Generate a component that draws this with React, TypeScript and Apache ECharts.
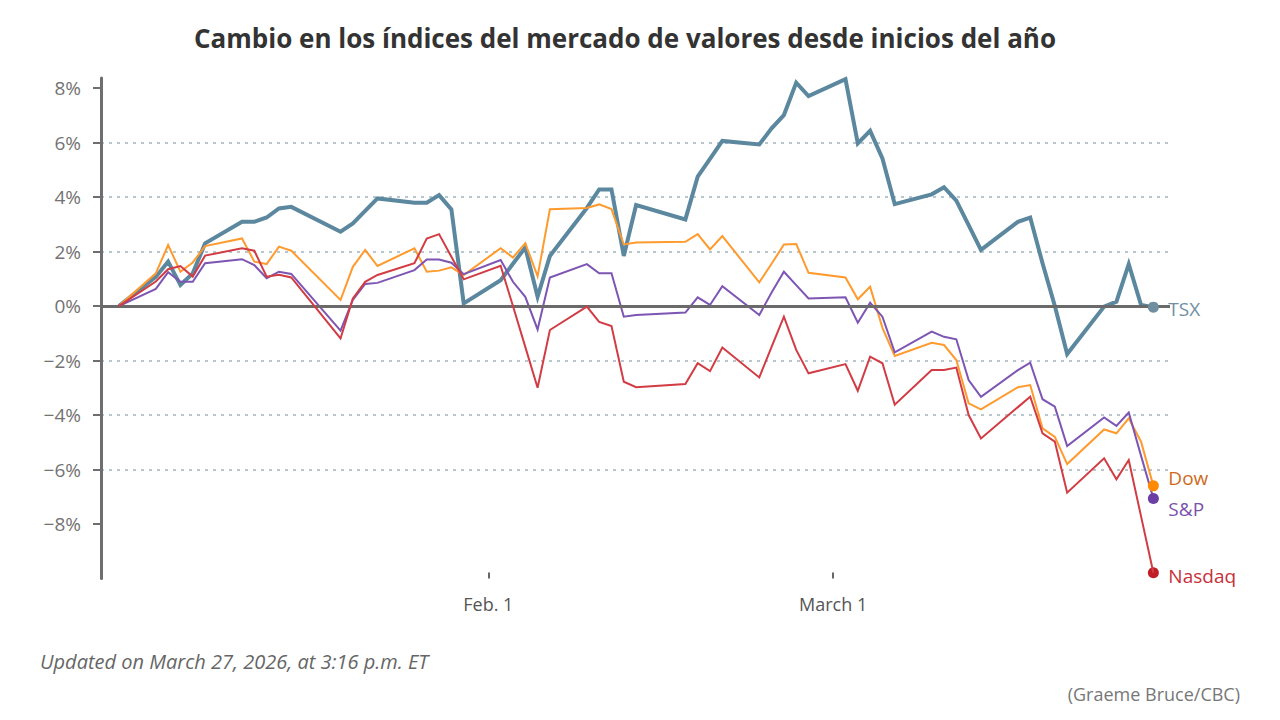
import React, { useEffect, useRef } from "react";
import * as echarts from "echarts";

// Trading days of 2026 (day number: Jan 1 = 0)
const dates = [
  "2026-01-02", "2026-01-05", "2026-01-06", "2026-01-07", "2026-01-08", "2026-01-09",
  "2026-01-12", "2026-01-13", "2026-01-14", "2026-01-15", "2026-01-16",
  "2026-01-20", "2026-01-21", "2026-01-22", "2026-01-23",
  "2026-01-26", "2026-01-27", "2026-01-28", "2026-01-29", "2026-01-30",
  "2026-02-02", "2026-02-03", "2026-02-04", "2026-02-05", "2026-02-06",
  "2026-02-09", "2026-02-10", "2026-02-11", "2026-02-12", "2026-02-13",
  "2026-02-17", "2026-02-18", "2026-02-19", "2026-02-20",
  "2026-02-23", "2026-02-24", "2026-02-25", "2026-02-26", "2026-02-27",
  "2026-03-02", "2026-03-03", "2026-03-04", "2026-03-05", "2026-03-06",
  "2026-03-09", "2026-03-10", "2026-03-11", "2026-03-12", "2026-03-13",
  "2026-03-16", "2026-03-17", "2026-03-18", "2026-03-19", "2026-03-20",
  "2026-03-23", "2026-03-24", "2026-03-25", "2026-03-26", "2026-03-27",
];

const tsx = [
  0, 1.07, 1.63, 0.77, 1.2, 2.3,
  3.09, 3.09, 3.25, 3.58, 3.64,
  2.73, 3.03, 3.49, 3.95,
  3.79, 3.79, 4.07, 3.55, 0.1,
  0.95, 1.55, 2.15, 0.34, 1.84,
  3.6, 4.28, 4.28, 1.84, 3.71,
  3.18, 4.75, 5.4, 6.06,
  5.93, 6.52, 7.01, 8.2, 7.71,
  8.33, 5.97, 6.43, 5.42, 3.74,
  4.1, 4.36, 3.87, 2.97, 2.06,
  3.09, 3.25, 1.57, 0.0, -1.76,
  -0.02, 0.16, 1.54, 0.04, -0.04,
];

const dow = [
  0, 1.2, 2.24, 1.26, 1.6, 2.2,
  2.48, 1.63, 1.54, 2.18, 2.03,
  0.22, 1.44, 2.06, 1.47,
  2.12, 1.26, 1.3, 1.42, 1.14,
  2.12, 1.78, 2.31, 1.09, 3.55,
  3.6, 3.73, 3.56, 2.26, 2.33,
  2.36, 2.64, 2.08, 2.57,
  0.87, 1.55, 2.26, 2.28, 1.22,
  1.05, 0.25, 0.71, -0.8, -1.83,
  -1.35, -1.43, -1.98, -3.57, -3.79,
  -2.98, -2.9, -4.49, -4.8, -5.8,
  -4.53, -4.67, -4.12, -4.98, -6.6,
];

const sp = [
  0, 0.63, 1.24, 0.89, 0.89, 1.57,
  1.72, 1.5, 1.02, 1.26, 1.18,
  -0.9, 0.23, 0.81, 0.85,
  1.32, 1.71, 1.71, 1.59, 1.17,
  1.69, 0.89, 0.34, -0.86, 1.05,
  1.54, 1.2, 1.2, -0.39, -0.33,
  -0.24, 0.32, 0.04, 0.73,
  -0.33, 0.5, 1.26, 0.77, 0.28,
  0.32, -0.61, 0.12, -0.39, -1.7,
  -0.94, -1.13, -1.22, -2.72, -3.33,
  -2.35, -2.08, -3.42, -3.69, -5.14,
  -4.09, -4.4, -3.91, -5.5, -7.06,
];

const nasdaq = [
  0, 0.9, 1.35, 1.47, 1.08, 1.85,
  2.12, 2.03, 1.08, 1.15, 1.05,
  -1.19, 0.28, 0.89, 1.14,
  1.57, 2.48, 2.64, 1.81, 0.98,
  1.48, 0.0, -1.5, -3.0, -0.88,
  -0.02, -0.58, -0.73, -2.78, -2.98,
  -2.86, -2.1, -2.39, -1.52,
  -2.62, -1.5, -0.39, -1.61, -2.47,
  -2.13, -3.11, -1.86, -2.1, -3.62,
  -2.35, -2.35, -2.26, -4.0, -4.86,
  -3.71, -3.33, -4.67, -4.98, -6.85,
  -5.59, -6.36, -5.65, -7.72, -9.79,
];

const yTicks = [-8, -6, -4, -2, 0, 2, 4, 6, 8];
const xTickDates = ["2026-02-01", "2026-03-01"];
const xTickLabels = ["Feb. 1", "March 1"];

const TITLE = "Cambio en los índices del mercado de valores desde inicios del año";
const UPDATED = "Updated on March 27, 2026, at 3:16 p.m. ET";
const CREDIT = "(Graeme Bruce/CBC)";

const FONT = "'Open Sans', 'Noto Sans', sans-serif";

function dayNum(s: string): number {
  const [y, m, d] = s.split("-").map(Number);
  return (Date.UTC(y, m - 1, d) - Date.UTC(2026, 0, 1)) / 86400000;
}

const days = dates.map(dayNum);
const xTickDays = xTickDates.map(dayNum);

function makeSeries(
  name: string,
  values: number[],
  color: string,
  width: number,
  dotColor: string,
  labelColor: string,
  labelOffset: number,
  z: number,
  extra: any = {}
) {
  const data = days.map((d, i) => [d, values[i]]);
  const last = data[data.length - 1];
  return {
    name,
    type: "line",
    data,
    z,
    symbol: "none",
    showSymbol: false,
    lineStyle: { color, width, join: "miter" },
    itemStyle: { color },
    silent: true,
    endLabel: {
      show: true,
      formatter: name,
      color: labelColor,
      fontSize: 19,
      fontFamily: FONT,
      distance: 15,
      offset: [0, labelOffset],
    },
    markPoint: {
      symbol: "circle",
      symbolSize: 11,
      silent: true,
      label: { show: false },
      itemStyle: { color: dotColor },
      data: [{ coord: last }],
    },
    ...extra,
  };
}

export default function App() {
  const ref = useRef<HTMLDivElement>(null);

  useEffect(() => {
    if (!ref.current) return;
    const chart = echarts.init(ref.current, undefined, { renderer: "svg" });
    chart.setOption({
      animation: false,
      backgroundColor: "#ffffff",
      title: [
        {
          text: TITLE,
          left: 189,
          top: 20,
          textStyle: { fontSize: 26, fontWeight: "bold", color: "#333333", fontFamily: FONT },
        },
        {
          text: UPDATED,
          left: 35,
          top: 646,
          textStyle: { fontSize: 20, fontStyle: "italic", fontWeight: "normal", color: "#666666", fontFamily: FONT },
        },
        {
          text: CREDIT,
          right: 35,
          top: 680,
          textStyle: { fontSize: 18, fontWeight: "normal", color: "#777777", fontFamily: FONT },
        },
      ],
      grid: { left: 101, right: 110, top: 78, bottom: 141.5, containLabel: false },
      xAxis: {
        type: "value",
        min: -0.45,
        max: 86.35,
        axisLine: { show: false, onZero: false },
        splitLine: { show: false },
        axisTick: {
          show: true,
          inside: true,
          length: 6,
          lineStyle: { color: "#666666", width: 2 },
          customValues: xTickDays,
        },
        axisLabel: {
          show: true,
          customValues: xTickDays,
          margin: 16,
          fontSize: 18,
          color: "#555555",
          fontFamily: FONT,
          formatter: (v: number) => {
            const i = xTickDays.indexOf(v);
            return i >= 0 ? xTickLabels[i] : "";
          },
        },
      },
      yAxis: {
        type: "value",
        min: -10,
        max: 8.37,
        interval: 2,
        axisLine: { show: true, onZero: false, lineStyle: { color: "#6e6e6e", width: 3 } },
        axisTick: {
          show: true,
          length: 8,
          lineStyle: { color: "#6e6e6e", width: 2 },
          customValues: yTicks,
        },
        axisLabel: {
          customValues: yTicks,
          margin: 20,
          fontSize: 19,
          color: "#737373",
          fontFamily: FONT,
          formatter: (v: number) => (v < 0 ? "\u2212" + Math.abs(v) : String(v)) + "%",
        },
        splitLine: {
          show: true,
          showMinLine: false,
          showMaxLine: false,
          lineStyle: { color: "#b8c6ce", width: 2, type: [3, 5] },
        },
      },
      series: [
        makeSeries("TSX", tsx, "#5b879f", 4, "#6f8fa0", "#6f8fa0", 2, 2, {
          markLine: {
            silent: true,
            symbol: ["none", "none"],
            label: { show: false },
            lineStyle: { color: "#6a6a6a", width: 3, type: "solid" },
            data: [{ yAxis: 0 }],
          },
        }),
        makeSeries("Dow", dow, "#ff9a2e", 2, "#ff8a00", "#cf6a1c", -8, 3),
        makeSeries("S&P", sp, "#7d55b3", 2, "#6b3fa3", "#7b52ab", 11, 4),
        makeSeries("Nasdaq", nasdaq, "#d23c44", 2, "#c01e26", "#c8303a", 3, 5),
      ],
    });
    return () => chart.dispose();
  }, []);

  return (
    <div
      ref={ref}
      style={{ position: "fixed", left: 0, top: 0, width: 1280, height: 720, background: "#fff" }}
    />
  );
}
